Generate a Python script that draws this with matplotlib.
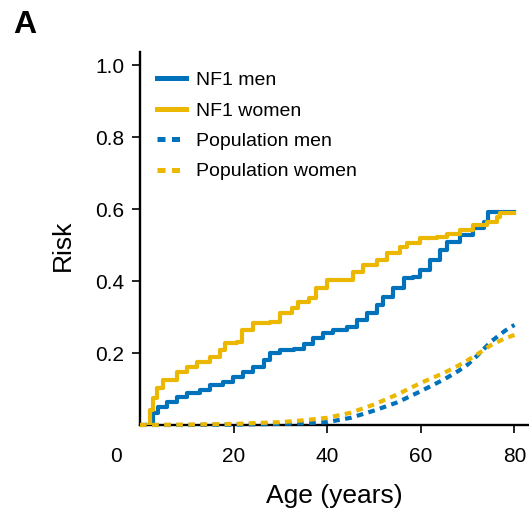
import matplotlib
matplotlib.use("Agg")
import matplotlib.pyplot as plt
from matplotlib import font_manager

# cumulative risk
men_age = [0, 2.1, 2.8, 3.9, 5.7, 7.8, 10.0, 12.8, 15.0, 17.8, 19.9, 22.1, 24.2, 26.4,
           27.8, 29.9, 32.8, 35.0, 37.0, 39.2, 41.3, 44.2, 46.3, 48.4, 50.6, 52.0,
           54.1, 56.3, 58.4, 59.8, 62.0, 64.1, 65.5, 68.4, 71.2, 73.4, 74.4, 79.8]
men_risk = [0, 0, 0.032, 0.051, 0.065, 0.079, 0.088, 0.097, 0.111, 0.120, 0.132, 0.148,
            0.162, 0.181, 0.199, 0.208, 0.210, 0.225, 0.241, 0.255, 0.264, 0.273, 0.292,
            0.310, 0.333, 0.356, 0.380, 0.407, 0.412, 0.431, 0.458, 0.486, 0.509, 0.528,
            0.546, 0.565, 0.593, 0.593]

women_age = [0, 1.4, 2.1, 2.8, 3.6, 5.0, 7.8, 10.0, 12.1, 15.0, 17.1, 18.2, 20.7, 21.7,
             24.2, 27.8, 29.9, 32.4, 33.8, 36.0, 37.7, 39.9, 42.7, 45.6, 47.7, 50.6,
             52.7, 55.6, 57.0, 59.8, 63.4, 65.5, 68.4, 71.2, 74.1, 76.2, 76.9, 79.8]
women_risk = [0, 0, 0.042, 0.074, 0.102, 0.125, 0.148, 0.162, 0.176, 0.190, 0.208, 0.229,
              0.231, 0.264, 0.282, 0.287, 0.310, 0.324, 0.343, 0.352, 0.380, 0.403, 0.403,
              0.426, 0.444, 0.458, 0.477, 0.495, 0.506, 0.519, 0.523, 0.531, 0.542, 0.556,
              0.565, 0.579, 0.588, 0.588]

pop_age = [0, 10, 20, 30, 35, 40, 45, 50, 55, 60, 65, 68, 70, 72, 75, 78, 80]
pop_men = [0, 0, 0.001, 0.003, 0.005, 0.008, 0.020, 0.040, 0.063, 0.094, 0.127, 0.150,
           0.168, 0.192, 0.232, 0.262, 0.278]
pop_women = [0, 0.001, 0.003, 0.008, 0.013, 0.020, 0.034, 0.057, 0.085, 0.117, 0.145,
             0.165, 0.180, 0.196, 0.222, 0.241, 0.250]

blue = "#0072BC"
yellow = "#EBB700"


def has_font(name):
    try:
        font_manager.findfont(name, fallback_to_default=False)
        return True
    except Exception:
        return False


base = "Liberation Sans"
narrow = "Liberation Sans Narrow" if has_font("Liberation Sans Narrow") else base
narrow_size = 22 if narrow != base else 19
plt.rcParams["font.family"] = base

fig = plt.figure(figsize=(5.29, 5.08), dpi=100)
ax = fig.add_axes([140 / 529, 83 / 508, 389 / 529, 373.3 / 508])

ax.step(men_age, men_risk, where="post", color=blue, lw=3, label="NF1 men", zorder=3)
ax.step(women_age, women_risk, where="post", color=yellow, lw=3, label="NF1 women", zorder=3)
ax.plot(pop_age, pop_men, color=blue, lw=3, dashes=(1.6, 1.3), label="Population men",
        zorder=3, clip_on=False)
ax.plot(pop_age, pop_women, color=yellow, lw=3, dashes=(1.6, 1.3), label="Population women",
        zorder=3, clip_on=False)

ax.set_xlim(0, 83.1)
ax.set_ylim(0, 1.037)
ax.set_xticks([20, 40, 60, 80])
ax.set_yticks([0.2, 0.4, 0.6, 0.8, 1.0])
ax.set_yticklabels(["0.2", "0.4", "0.6", "0.8", "1.0"])
ax.tick_params(axis="both", labelsize=15, length=6, width=1.2, direction="out",
               colors="black")
ax.tick_params(axis="y", pad=5.5)
ax.tick_params(axis="x", pad=9.5)
for side in ["top", "right"]:
    ax.spines[side].set_visible(False)
for side in ["left", "bottom"]:
    ax.spines[side].set_linewidth(1.7)

fig.text(116.4 / 529, 1 - 456 / 508, "0", ha="center", va="center", fontsize=15)
fig.text(334 / 529, 5 / 508, "Age (years)", ha="center", va="baseline",
         fontsize=narrow_size, family=narrow)
fig.text(63 / 529, 1 - 245 / 508, "Risk", ha="center", va="center", rotation=90,
         fontsize=narrow_size, family=narrow)
fig.text(13 / 529, 1 - 33 / 508, "A", ha="left", va="baseline", fontsize=23,
         fontweight="bold")

leg = ax.legend(loc="upper left", bbox_to_anchor=(157 / 529, 1 - 71.5 / 508),
                bbox_transform=fig.transFigure, frameon=False, fontsize=14,
                borderpad=0, borderaxespad=0, handlelength=1.5, handletextpad=0.5,
                labelspacing=0.66)
for h in leg.get_lines():
    h.set_linewidth(3.6)

fig.savefig("out.png", dpi=100)
